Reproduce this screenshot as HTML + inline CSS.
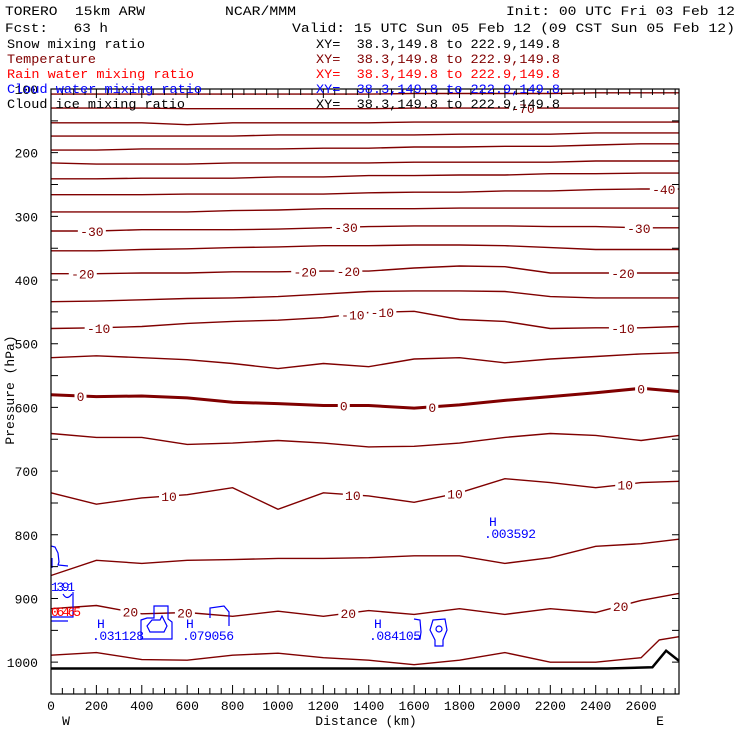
<!DOCTYPE html>
<html><head><meta charset="utf-8"><style>
html,body{margin:0;padding:0;background:#fff;}
svg{display:block;}
text{font-family:"Liberation Mono",monospace;font-size:13px;white-space:pre;}
</style></head><body>
<svg id="chart" width="740" height="740" viewBox="0 0 740 740" xmlns="http://www.w3.org/2000/svg" xml:space="preserve">
<rect x="0" y="0" width="740" height="740" fill="#fff"/>
<g id="contours"></g>
<g id="cloud" fill="none" stroke="#0000ff" stroke-width="1.2">
<path d="M51,546 L55,547 L58,553 L59,562 L58,565 L68,566"/>
<path d="M52,558 L52,568"/>
<path d="M63,594 Q67,601 72,594"/>
<path d="M73,592 L73,617 L51,617 M51,621 L68,621"/>
<path d="M141,620 L147,618 L154,618 L154,606 L168,606 L168,619 L172,622 L172,639 L141,639 Z"/>
<path d="M147,626 L152,620 L160,620 L162,616 L167,626 L164,632 L150,632 Z"/>
<path d="M210,618 L210,608 L224,606 L229,612 L229,626"/>
<path d="M414,619 L420,620 L421,632 L420,639 L414,639"/>
<path d="M433,620 L445,619 L447,630 L443,640 L443,646 L435,646 L435,640 L430,630 Z"/>
<circle cx="439" cy="629" r="3"/>
</g>
<g id="axes"></g>
<g id="labels">
<text x="97" y="628" fill="#00f">H</text>
<text x="92" y="640" fill="#00f" textLength="52">.031128</text>
<text x="186" y="628" fill="#00f">H</text>
<text x="182" y="640" fill="#00f" textLength="52">.079056</text>
<text x="374" y="628" fill="#00f">H</text>
<text x="369" y="640" fill="#00f" textLength="52">.084105</text>
<text x="489" y="526" fill="#00f">H</text>
<text x="484" y="538" fill="#00f" textLength="52">.003592</text>
<text x="51" y="591" fill="#00f" textLength="24">1391</text>
<text x="51" y="616" fill="#f00" textLength="30">06465</text>
</g>
<g id="header">
<text x="5" y="15" textLength="140" lengthAdjust="spacingAndGlyphs">TORERO  15km ARW</text>
<text x="225" y="15" textLength="71" lengthAdjust="spacingAndGlyphs">NCAR/MMM</text>
<text x="506" y="15" textLength="229" lengthAdjust="spacingAndGlyphs">Init: 00 UTC Fri 03 Feb 12</text>
<text x="5" y="32" textLength="103" lengthAdjust="spacingAndGlyphs">Fcst:   63 h</text>
<text x="292" y="32" textLength="443" lengthAdjust="spacingAndGlyphs">Valid: 15 UTC Sun 05 Feb 12 (09 CST Sun 05 Feb 12)</text>
<text x="7" y="48" textLength="138" lengthAdjust="spacingAndGlyphs">Snow mixing ratio</text>
<text x="316" y="48" textLength="244" lengthAdjust="spacingAndGlyphs">XY=  38.3,149.8 to 222.9,149.8</text>
<text x="7" y="63" fill="#800000" textLength="89" lengthAdjust="spacingAndGlyphs">Temperature</text>
<text x="316" y="63" fill="#800000" textLength="244" lengthAdjust="spacingAndGlyphs">XY=  38.3,149.8 to 222.9,149.8</text>
<text x="7" y="78" fill="#f00" textLength="187" lengthAdjust="spacingAndGlyphs">Rain water mixing ratio</text>
<text x="316" y="78" fill="#f00" textLength="244" lengthAdjust="spacingAndGlyphs">XY=  38.3,149.8 to 222.9,149.8</text>
<text x="7" y="93" fill="#00f" textLength="195" lengthAdjust="spacingAndGlyphs">Cloud water mixing ratio</text>
<text x="316" y="93" fill="#00f" textLength="244" lengthAdjust="spacingAndGlyphs">XY=  38.3,149.8 to 222.9,149.8</text>
<text x="7" y="108" textLength="178" lengthAdjust="spacingAndGlyphs">Cloud ice mixing ratio</text>
<text x="316" y="108" textLength="244" lengthAdjust="spacingAndGlyphs">XY=  38.3,149.8 to 222.9,149.8</text>
</g>
</svg>
<script>
const kmSamples=[0,200,400,600,800,1000,1200,1400,1600,1800,2000,2200,2400,2600,2767];
const temps=[-75,-70,-65,-60,-55,-50,-45,-40,-35,-30,-25,-20,-15,-10,-5,0,5,10,15,20];
const pM75=[108,108,108,108,108,108,108,108,107,107,107,107,106,106,106];
const pM70=[130,130,130,131,131,131,131,131,130,130,130,130,130,130,130];
const pM65=[153,153,153,156,153,153,153,153,152,152,152,152,152,152,152];
const pM60=[174,174,174,174,174,172,172,172,172,171,171,171,169,169,169];
const pM55=[196,196,194,194,194,194,193,193,191,191,190,190,188,186,186];
const pM50=[216,218,218,218,216,216,216,216,215,215,215,215,213,213,213];
const pM45=[241,241,240,240,240,238,238,236,236,235,235,233,233,232,232];
const pM40=[266,266,266,265,265,265,265,263,262,262,260,260,258,257,257];
const pM35=[293,293,293,293,291,290,288,288,288,287,287,287,287,287,287];
const pM30=[323,323,321,321,321,320,318,316,315,315,315,316,316,318,318];
const pM25=[354,354,352,351,349,348,346,346,345,345,346,349,352,352,352];
const pM20=[390,390,389,389,387,387,386,386,381,378,379,389,389,389,389];
const pM15=[434,433,431,429,428,426,422,418,417,417,418,426,428,428,428];
const pM10=[476,475,473,468,465,463,459,451,449,462,465,476,475,475,473];
const pM5=[522,519,522,525,531,539,531,536,524,522,530,524,520,516,514];
const p0=[580,583,582,585,592,594,597,597,601,596,589,583,577,570,575];
const p5=[641,647,647,658,656,652,656,662,661,656,647,641,644,652,644];
const p10=[734,752,742,737,726,760,734,739,749,734,712,718,726,718,716];
const p15=[864,840,845,840,839,837,837,836,833,833,845,836,818,814,807];
const p20=[916,911,924,922,928,920,928,919,925,916,925,916,922,903,892];
const lines=[pM75,pM70,pM65,pM60,pM55,pM50,pM45,pM40,pM35,pM30,pM25,pM20,pM15,pM10,pM5,p0,p5,p10,p15,p20];
const km25=[0,200,400,600,800,1000,1200,1400,1600,1800,2000,2200,2400,2600,2680,2767];
const p25=[989,985,996,997,989,986,993,997,1004,997,985,1000,1000,993,965,960];
const groundKm=[0,2450,2650,2710,2767];
const groundP=[1010,1010,1008,982,998];
const pTicks=[100,200,300,400,500,600,700,800,900,1000];
const kmTicks=[0,200,400,600,800,1000,1200,1400,1600,1800,2000,2200,2400,2600];
const labelTemps=[-70,-40,-30,-30,-30,-20,-20,-20,-20,-10,-10,-10,-10,0,0,0,0,10,10,10,10,20,20,20,20];
const labelKm=[2080,2700,180,1300,2590,140,1120,1310,2520,210,1330,1460,2520,130,1290,1680,2600,520,1330,1780,2530,350,590,1310,2510];

const NS='http://www.w3.org/2000/svg';
const X0=51,X1=679,Y0=89,Y1=694,KMAX=2767,PMIN=100,PMAX=1050;
const xs=k=>X0+(X1-X0)*k/KMAX;
const ys=p=>Y0+(Y1-Y0)*(p-PMIN)/(PMAX-PMIN);
function mk(tag,attrs,parent){const e=document.createElementNS(NS,tag);for(const k in attrs)e.setAttribute(k,attrs[k]);parent.appendChild(e);return e;}
function interp(kmArr,pArr,k){for(let i=0;i<kmArr.length-1;i++){if(k>=kmArr[i]&&k<=kmArr[i+1]){const t=(k-kmArr[i])/(kmArr[i+1]-kmArr[i]);return pArr[i]+t*(pArr[i+1]-pArr[i]);}}return pArr[pArr.length-1];}
const cg=document.getElementById('contours');
function drawLine(kmArr,pArr,t){
  const d=kmArr.map((k,i)=>(i?'L':'M')+xs(k).toFixed(1)+','+ys(pArr[i]).toFixed(1)).join(' ');
  const el=mk('path',{d:d,fill:'none',stroke:'#800000','stroke-width':t===0?3:1.4},cg);
  
  
}
lines.forEach((arr,i)=>drawLine(kmSamples,arr,temps[i]));
drawLine(km25,p25,25);
labelTemps.forEach((t,i)=>{
  const k=labelKm[i];const ti=temps.indexOf(t);
  const p=interp(kmSamples,lines[ti],k);
  const x=xs(k),y=ys(p);
  const txt=String(t);const w=txt.length*8+4;
  const r=mk('rect',{x:x-w/2,y:y-6,width:w,height:12,fill:'#fff'},cg);
  
  
  const tx=mk('text',{x:x,y:y+5,'text-anchor':'middle',fill:'#800000'},cg);
  tx.textContent=txt;
  
  
});
const gd=groundKm.map((k,i)=>(i?'L':'M')+xs(k).toFixed(1)+','+ys(groundP[i]).toFixed(1)).join(' ');
const gEl=mk('path',{d:gd,fill:'none',stroke:'#000','stroke-width':2.5},cg);


const ag=document.getElementById('axes');
const frame=mk('rect',{x:X0,y:Y0,width:X1-X0,height:Y1-Y0,fill:'none',stroke:'#000','stroke-width':1.2},ag);


let td='';
for(let p=100;p<=1050;p+=50){const y=ys(p);td+='M'+X0+','+y+' h7 M'+X1+','+y+' h-7 ';}
for(let k=0;k<=2750;k+=50){const x=xs(k);const L=(k%200===0)?9:6;td+='M'+x+','+Y1+' v-'+L+' M'+x+','+Y0+' v'+L+' ';}
const tk=mk('path',{d:td,stroke:'#000','stroke-width':1,fill:'none'},ag);


pTicks.forEach(p=>{
  const t=mk('text',{x:38,y:ys(p)+5,'text-anchor':'end'},ag);
  t.textContent=String(p);
  
  
});
kmTicks.forEach(k=>{
  const t=mk('text',{x:xs(k),y:710,'text-anchor':'middle'},ag);
  t.textContent=String(k);
  
  
});
const xt=mk('text',{x:366,y:725,'text-anchor':'middle'},ag);
xt.textContent='Distance (km)';


const wl=mk('text',{x:66,y:725,'text-anchor':'middle'},ag);
wl.textContent='W';


const el=mk('text',{x:660,y:725,'text-anchor':'middle'},ag);
el.textContent='E';


const yt=mk('text',{x:14,y:390,'text-anchor':'middle',transform:'rotate(-90 14 390)'},ag);
yt.textContent='Pressure (hPa)';


</script>
</body></html>
